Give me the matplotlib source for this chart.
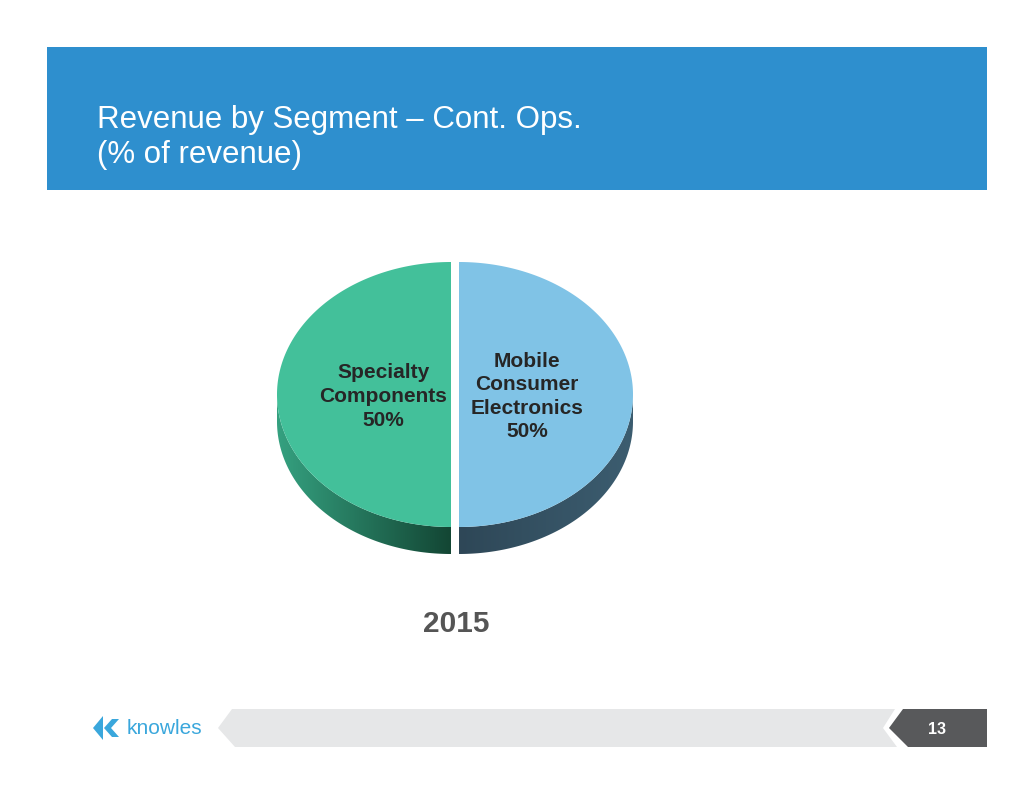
import numpy as np
import matplotlib.pyplot as plt
from matplotlib.patches import Polygon, Rectangle
from matplotlib.colors import LinearSegmentedColormap

# chart data
segments = ['Specialty\nComponents', 'Mobile\nConsumer\nElectronics']
shares = [50, 50]
year = '2015'
title_lines = ['Revenue by Segment \u2013 Cont. Ops.', '(% of revenue)']
page_no = '13'

top_colors = ['#43C09A', '#80C3E6']
side_colors = [('#35A180', '#134634'), ('#2E4757', '#3C5D70')]

plt.rcParams['font.family'] = ['Liberation Sans', 'DejaVu Sans']

fig = plt.figure(figsize=(10.34, 7.99), dpi=100)
ax = fig.add_axes([0, 0, 1, 1])
ax.set_xlim(0, 1034)
ax.set_ylim(799, 0)
ax.axis('off')

# header band
ax.add_patch(Rectangle((47, 47), 940, 143, color='#2E8FCE', lw=0))
ax.text(97, 128, title_lines[0], color='white', fontsize=22.5, va='baseline')
ax.text(97, 163, title_lines[1], color='white', fontsize=22.5, va='baseline')

# 3d-ish pie
cx, cy = 455, 394.5
rx, ry = 174, 132.5
depth = 27
explode = 4

total = float(sum(shares))
start = 90.0
for i, (name, val) in enumerate(zip(segments, shares)):
    span = 360.0 * val / total
    t0, t1 = start, start + span
    mid = np.radians((t0 + t1) / 2)
    ox = cx + explode * np.cos(mid)
    oy = cy + explode * np.sin(mid) * ry / rx
    t = np.radians(np.linspace(t0, t1, 200))
    px = ox + rx * np.cos(t)
    py = oy + ry * np.sin(t)

    # side wall (only the front, lower half is seen)
    keep = np.sin(t) >= -1e-9
    sx, sy = px[keep], py[keep]
    if len(sx) > 1:
        side = np.column_stack([np.r_[sx, sx[::-1]], np.r_[sy, sy[::-1] + depth]])
        poly = Polygon(side, closed=True, facecolor='none', edgecolor='none')
        ax.add_patch(poly)
        cmap = LinearSegmentedColormap.from_list('s%d' % i, side_colors[i])
        grad = np.linspace(0, 1, 256).reshape(1, -1)
        im = ax.imshow(grad, cmap=cmap, aspect='auto', interpolation='bilinear',
                       extent=[sx.min(), sx.max(), sy.max() + depth, sy.min()])
        im.set_clip_path(poly)

    # top face
    face = np.column_stack([np.r_[ox, px], np.r_[oy, py]])
    ax.add_patch(Polygon(face, closed=True, facecolor=top_colors[i], edgecolor='none'))

    lx = ox + 0.39 * rx * np.cos(mid)
    ly = oy + 0.39 * ry * np.sin(mid)
    ax.text(lx, ly + 2, '%s\n%d%%' % (name, val), ha='center', va='center',
            fontsize=15, fontweight='bold', color='#262626', linespacing=1.3)
    start = t1

ax.set_xlim(0, 1034)
ax.set_ylim(799, 0)

ax.text(456, 624, year, ha='center', va='center', fontsize=21.5,
        fontweight='bold', color='#555555')

# footer
ax.add_patch(Polygon([(218, 728), (232, 709), (895, 709), (883, 728), (897, 747), (235, 747)],
                     closed=True, facecolor='#E6E7E8', edgecolor='none'))
ax.add_patch(Polygon([(903, 709), (987, 709), (987, 747), (908, 747), (889, 728)],
                     closed=True, facecolor='#58595B', edgecolor='none'))
ax.text(937, 729, page_no, ha='center', va='center', fontsize=11.5,
        fontweight='bold', color='white')

# logo
logo_blue = '#3AA7DC'
ax.add_patch(Polygon([(93, 728), (103, 716), (103, 740)], closed=True,
                     facecolor=logo_blue, edgecolor='none'))
ax.add_patch(Polygon([(104, 728), (112, 719), (119, 719), (111, 728), (119, 737), (112, 737)],
                     closed=True, facecolor=logo_blue, edgecolor='none'))
ax.text(127, 729, 'knowles', ha='left', va='center', fontsize=15, color=logo_blue,
        fontstretch='condensed')

fig.savefig('out.png', dpi=100)
